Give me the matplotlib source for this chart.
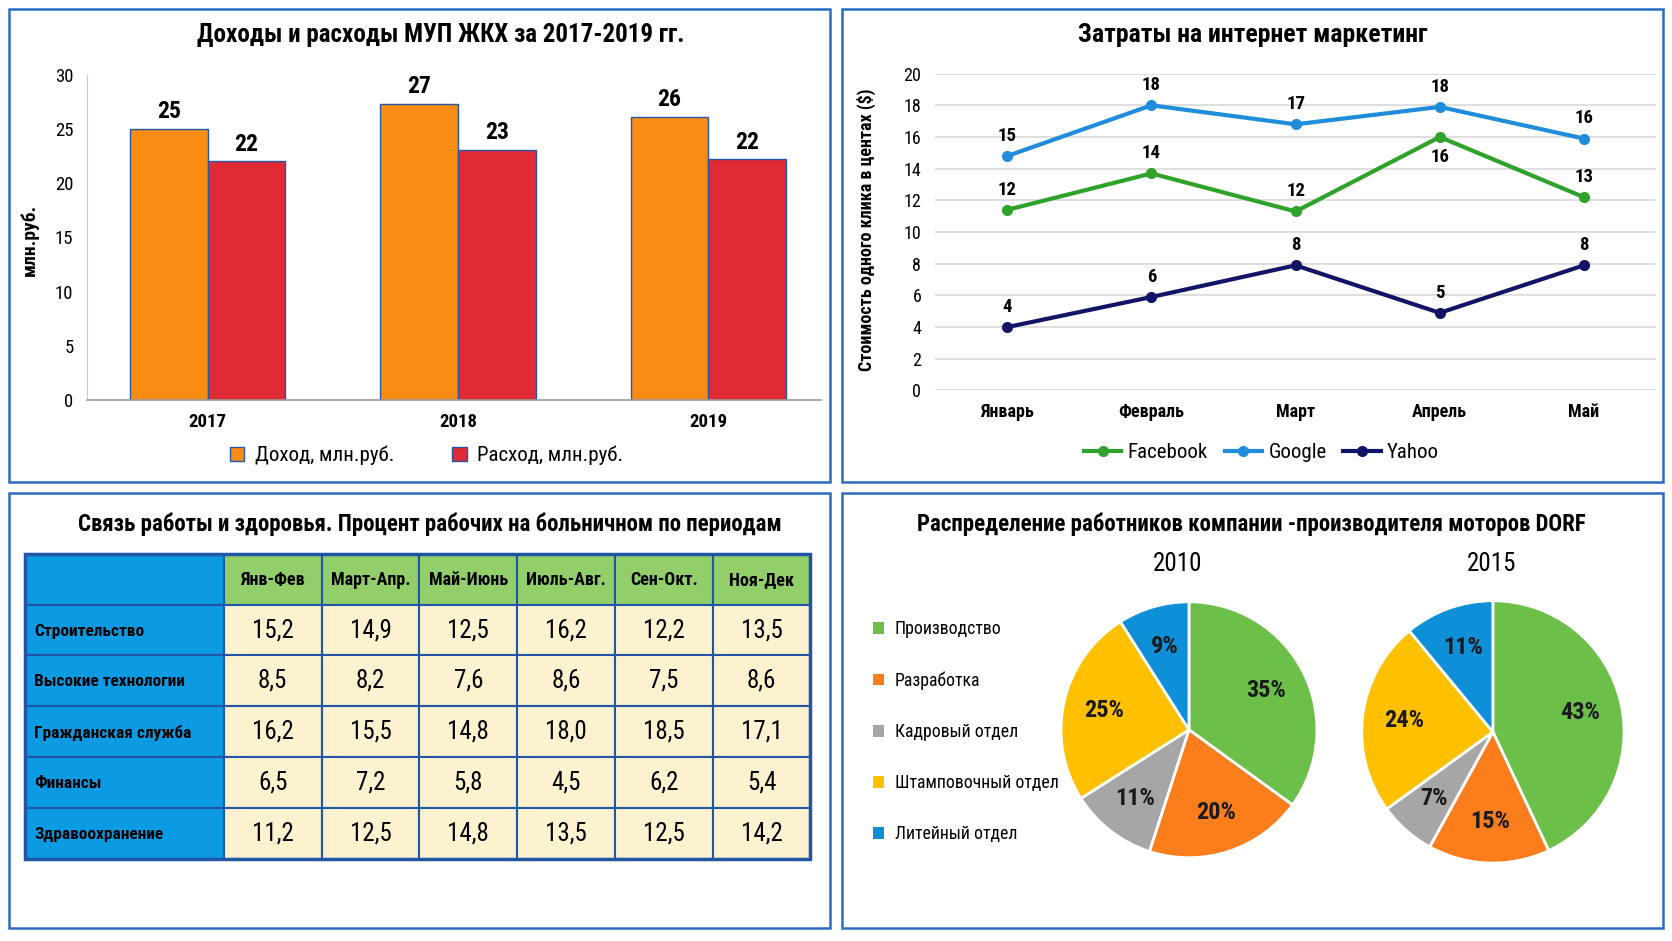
import matplotlib
matplotlib.use('Agg')
import matplotlib.pyplot as plt
from matplotlib import font_manager
from matplotlib.patches import Rectangle, Patch
import numpy as np

# pick a narrow font if there is one
installed = {f.name for f in font_manager.fontManager.ttflist}
base_font = 'Roboto'
for name in ['Liberation Sans Narrow', 'Roboto Condensed', 'Open Sans Condensed']:
    if name in installed:
        base_font = name
        break
plt.rcParams['font.family'] = [base_font, 'DejaVu Sans']

# --- data: bar chart
years = ['2017', '2018', '2019']
income = [25.0, 27.3, 26.1]
expense = [22.0, 23.1, 22.2]
income_labels = ['25', '27', '26']
expense_labels = ['22', '23', '22']

# --- data: line chart
months = ['Январь', 'Февраль', 'Март', 'Апрель', 'Май']
facebook = [11.4, 13.7, 11.3, 16.0, 12.2]
google = [14.8, 18.0, 16.8, 17.9, 15.9]
yahoo = [4.0, 5.9, 7.9, 4.9, 7.9]
facebook_labels = ['12', '14', '12', '16', '13']
google_labels = ['15', '18', '17', '18', '16']
yahoo_labels = ['4', '6', '8', '5', '8']

# --- data: table
periods = ['Янв-Фев', 'Март-Апр.', 'Май-Июнь', 'Июль-Авг.', 'Сен-Окт.', 'Ноя-Дек']
sectors = ['Строительство', 'Высокие технологии', 'Гражданская служба', 'Финансы', 'Здравоохранение']
sick = [
    [15.2, 14.9, 12.5, 16.2, 12.2, 13.5],
    [8.5, 8.2, 7.6, 8.6, 7.5, 8.6],
    [16.2, 15.5, 14.8, 18.0, 18.5, 17.1],
    [6.5, 7.2, 5.8, 4.5, 6.2, 5.4],
    [11.2, 12.5, 14.8, 13.5, 12.5, 14.2],
]

# --- data: pies
departments = ['Производство', 'Разработка', 'Кадровый отдел', 'Штамповочный отдел', 'Литейный отдел']
share_2010 = [35, 20, 11, 25, 9]
share_2015 = [43, 15, 7, 24, 11]

W, H = 1568.0, 882.0  # reference measured in these units


def fx(x):
    return x / W


def fy(y):
    return 1 - y / H


fig = plt.figure(figsize=(16.72, 9.41), dpi=100)
fig.patch.set_facecolor('white')

# panel frames
border = '#2a6cc0'
for (x0, y0, x1, y1) in [(8, 8, 778, 452), (790, 8, 1560, 452),
                         (8, 462, 778, 870), (790, 462, 1560, 870)]:
    fig.patches.append(Rectangle((fx(x0), fy(y1)), fx(x1 - x0), (y1 - y0) / H,
                                 transform=fig.transFigure, fill=False,
                                 edgecolor=border, linewidth=1.8))

# ================= bar chart =================
ax1 = fig.add_axes([fx(82), fy(375), fx(770 - 82), (375 - 70) / H])
xpos = np.arange(len(years))
bw = 0.31
b1 = ax1.bar(xpos - bw / 2, income, bw, color='#fb8c13', edgecolor='#2457a8', linewidth=1.0,
             label='Доход, млн.руб.')
b2 = ax1.bar(xpos + bw / 2, expense, bw, color='#e02a36', edgecolor='#2457a8', linewidth=1.0,
             label='Расход, млн.руб.')
for bars, labs in [(b1, income_labels), (b2, expense_labels)]:
    for bar, lab in zip(bars, labs):
        ax1.annotate(lab, (bar.get_x() + bar.get_width() / 2, bar.get_height()), xytext=(0, 4),
                     textcoords='offset points', ha='center', va='bottom', fontsize=17,
                     fontweight='bold')
ax1.set_xlim(-0.48, 2.45)
ax1.set_ylim(0, 30)
ax1.set_yticks(range(0, 31, 5))
ax1.set_xticks(xpos)
ax1.set_xticklabels(years, fontweight='bold', fontsize=14)
ax1.tick_params(axis='both', length=0, labelsize=13.5)
ax1.tick_params(axis='x', pad=9)
ax1.tick_params(axis='y', pad=10)
for s in ['top', 'right']:
    ax1.spines[s].set_visible(False)
ax1.spines['left'].set_color('#c8c8c8')
ax1.spines['bottom'].set_color('#9a9a9a')
ax1.spines['bottom'].set_linewidth(1.2)
fig.text(fx(28), fy(225), 'млн.руб.', rotation=90, ha='center', va='center',
         fontsize=14, fontweight='bold')
fig.text(fx(413), fy(33), 'Доходы и расходы МУП ЖКХ за 2017-2019 гг.', ha='center', va='center',
         fontsize=18, fontweight='bold')
fig.legend(handles=[b1, b2], loc='center', bbox_to_anchor=(fx(400), fy(427)), ncol=2,
           frameon=False, fontsize=15, handlelength=0.7, handleheight=0.7,
           handletextpad=0.5, columnspacing=2.8)

# ================= line chart =================
ax2 = fig.add_axes([fx(877), fy(366), fx(1553 - 877), (366 - 69) / H])
xm = np.arange(len(months))
series = [('Facebook', facebook, facebook_labels, '#2fa22a'),
          ('Google', google, google_labels, '#1f8ddb'),
          ('Yahoo', yahoo, yahoo_labels, '#111566')]
for name, vals, labs, col in series:
    ax2.plot(xm, vals, color=col, linewidth=3, marker='o', markersize=7, label=name, zorder=3)
    for i, (v, lab) in enumerate(zip(vals, labs)):
        below = (name == 'Facebook' and i == 3)
        ax2.annotate(lab, (i, v), xytext=(0, -8 if below else 8), textcoords='offset points',
                     ha='center', va='top' if below else 'bottom', fontsize=13.5,
                     fontweight='bold')
ax2.set_xlim(-0.5, 4.5)
ax2.set_ylim(0, 20)
ax2.set_yticks(range(0, 21, 2))
ax2.set_xticks(xm)
ax2.set_xticklabels(months, fontweight='bold', fontsize=13)
ax2.tick_params(axis='both', length=0, labelsize=13)
ax2.tick_params(axis='x', pad=9)
ax2.tick_params(axis='y', pad=10)
ax2.grid(axis='y', color='#d9d9d9', linewidth=1.2)
ax2.set_axisbelow(True)
for s in ax2.spines.values():
    s.set_visible(False)
fig.text(fx(813), fy(215), 'Стоимость одного клика в центах ($)', rotation=90, ha='center',
         va='center', fontsize=13, fontweight='bold')
fig.text(fx(1175), fy(33), 'Затраты на интернет маркетинг', ha='center', va='center',
         fontsize=18.5, fontweight='bold')
ax2.legend(loc='center', bbox_to_anchor=(fx(1183), fy(424)), bbox_transform=fig.transFigure,
           ncol=3, frameon=False, fontsize=15, handlelength=1.8, handletextpad=0.3,
           columnspacing=0.8)

# ================= table =================
ax3 = fig.add_axes([fx(23), fy(805), fx(760 - 23), (805 - 519) / H])
first_w = 187 / 91.7
col_edges = [0, first_w] + [first_w + k + 1 for k in range(len(periods))]
nrows = len(sectors) + 1
ax3.set_xlim(0, col_edges[-1])
ax3.set_ylim(nrows, 0)
ax3.axis('off')
grid_col = '#2155a6'
for r in range(nrows):
    for c in range(len(col_edges) - 1):
        if c == 0:
            face = '#0a9be2'
        elif r == 0:
            face = '#92cf6b'
        else:
            face = '#fdf2cf'
        ax3.add_patch(Rectangle((col_edges[c], r), col_edges[c + 1] - col_edges[c], 1,
                                facecolor=face, edgecolor=grid_col, linewidth=1.5))
ax3.add_patch(Rectangle((0, 0), col_edges[-1], nrows, fill=False, edgecolor=grid_col,
                        linewidth=2.5, clip_on=False))
for c, p in enumerate(periods):
    ax3.text((col_edges[c + 1] + col_edges[c + 2]) / 2, 0.52, p, ha='center', va='center',
             fontsize=13, fontweight='bold')
for r, sec in enumerate(sectors):
    ax3.text(0.1, r + 1.52, sec, ha='left', va='center', fontsize=12.5, fontweight='bold')
    for c, v in enumerate(sick[r]):
        ax3.text((col_edges[c + 1] + col_edges[c + 2]) / 2, r + 1.5, f'{v:.1f}'.replace('.', ','),
                 ha='center', va='center', fontsize=18)
fig.text(fx(403), fy(491), 'Связь работы и здоровья. Процент рабочих на больничном по периодам',
         ha='center', va='center', fontsize=16.5, fontweight='bold')

# ================= pies =================
pie_colors = ['#6cc04a', '#fb7d1c', '#a6a6a6', '#ffc000', '#0f8fd8']
fig.text(fx(1174), fy(491), 'Распределение работников компании -производителя моторов DORF',
         ha='center', va='center', fontsize=16.5, fontweight='bold')
for (cx, cy, rad, shares, yr, yr_x) in [(1115, 684, 120, share_2010, '2010', 1104),
                                        (1400, 686, 123, share_2015, '2015', 1399)]:
    axp = fig.add_axes([fx(cx - rad), fy(cy + rad), fx(2 * rad), 2 * rad / H])
    axp.pie(shares, colors=pie_colors, startangle=90, counterclock=False,
            autopct=lambda p: f'{p:.0f}%', pctdistance=0.68,
            wedgeprops=dict(edgecolor='white', linewidth=2),
            textprops=dict(fontsize=17.5, fontweight='bold', color='#1a1a1a'))
    axp.set_xlim(-1, 1)
    axp.set_ylim(-1, 1)
    fig.text(fx(yr_x), fy(529), yr, ha='center', va='center', fontsize=18)
fig.legend(handles=[Patch(facecolor=c, edgecolor='none') for c in pie_colors], labels=departments,
           loc='upper left', bbox_to_anchor=(fx(810), fy(573)), frameon=False, fontsize=12.8,
           handlelength=0.65, handleheight=0.65, handletextpad=0.6, labelspacing=1.86, borderpad=0)

fig.savefig('out.png', dpi=100, facecolor='white')
